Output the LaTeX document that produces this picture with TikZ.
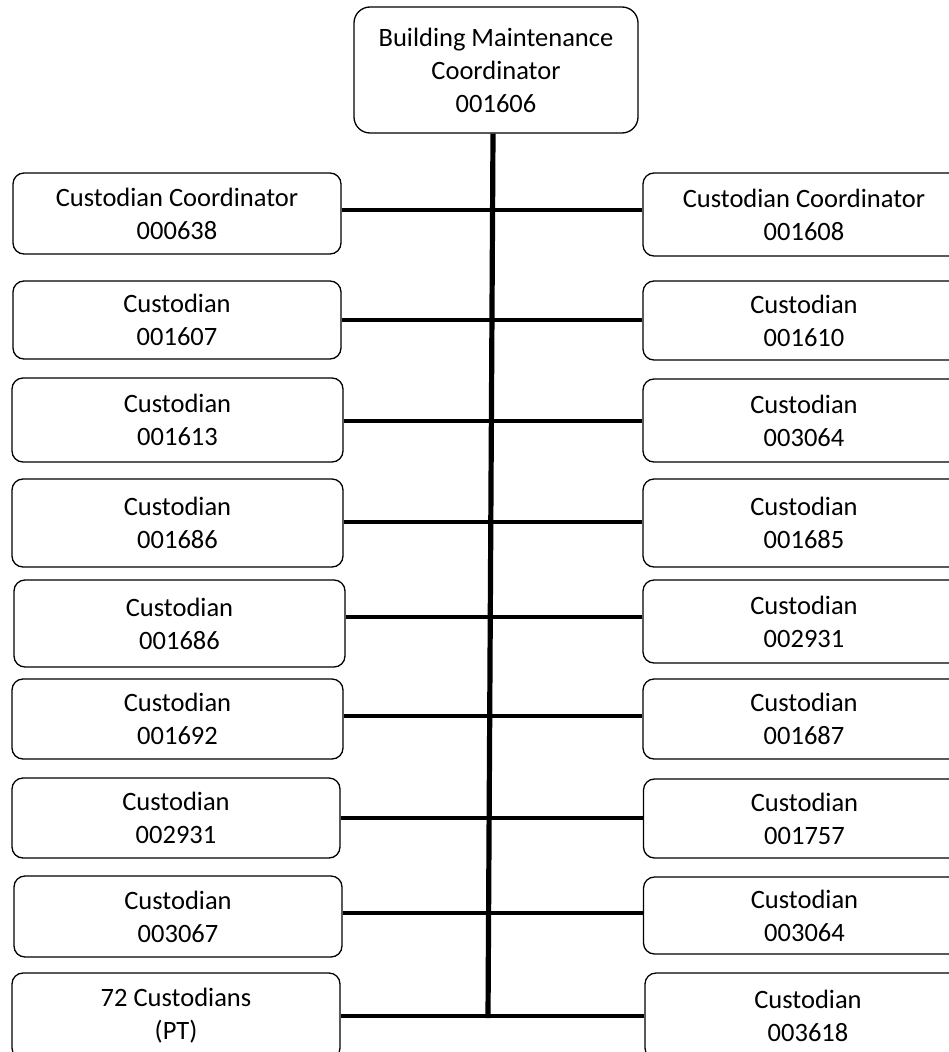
\documentclass[tikz,border=0pt]{standalone}
\usepackage{fontspec}
\setmainfont{Carlito}
\begin{document}
\begin{tikzpicture}[x=1pt,y=-1pt,
  box/.style={draw=black,line width=1.3pt,rounded corners=11pt,inner sep=0pt,align=center,
    font=\fontsize{26.5}{33}\selectfont,minimum width=328pt},
  rbox/.style={box,minimum width=322pt},
  topbox/.style={box,rounded corners=16pt,minimum width=284pt,minimum height=126pt},
  conn/.style={line width=4.6pt},
  trunk/.style={line width=5.2pt}]
\useasboundingbox (0,0) rectangle (949,1052);
\clip (0,0) rectangle (949,1052);
\node[topbox] (top) at (496,70) {Building Maintenance\\Coordinator\\001606};
% left column
\node[box,minimum height=81pt] (l1) at (177,213.5) {Custodian Coordinator\\000638};
\node[box,minimum height=78pt] (l2) at (177,320) {Custodian\\001607};
\node[box,minimum height=84pt,minimum width=331pt] (l3) at (177.5,420) {Custodian\\001613};
\node[box,minimum height=88pt,minimum width=331pt] (l4) at (177.5,523) {Custodian\\001686};
\node[box,minimum height=87pt,minimum width=331pt] (l5) at (179.5,623.5) {Custodian\\001686};
\node[box,minimum height=80pt,minimum width=331pt] (l6) at (177.5,719) {Custodian\\001692};
\node[box,minimum height=80pt] (l7) at (176,818) {Custodian\\002931};
\node[box,minimum height=81pt] (l8) at (178,916.5) {Custodian\\003067};
\node[box,minimum height=86pt] (l9) at (176,1016) {72 Custodians\\(PT)};
% right column
\node[rbox,minimum height=83pt] (r1) at (804,214.5) {Custodian Coordinator\\001608};
\node[rbox,minimum height=79pt] (r2) at (804,320.5) {Custodian\\001610};
\node[rbox,minimum height=83pt] (r3) at (804,420.5) {Custodian\\003064};
\node[rbox,minimum height=88pt] (r4) at (804,523) {Custodian\\001685};
\node[rbox,minimum height=83pt] (r5) at (804,621.5) {Custodian\\002931};
\node[rbox,minimum height=80pt] (r6) at (804,719) {Custodian\\001687};
\node[rbox,minimum height=79pt] (r7) at (804.5,818.5) {Custodian\\001757};
\node[rbox,minimum height=77pt] (r8) at (804.5,915.5) {Custodian\\003064};
\node[rbox,minimum height=86pt,minimum width=326pt] (r9) at (808,1016) {Custodian\\003618};
% trunk
\coordinate (tbot) at (488,1018);
\draw[trunk] (top.south -| 493,0) -- (tbot);
% branches
\draw[conn] (l1.east |- 0,210) -- (r1.west |- 0,210);
\draw[conn] (l2.east |- 0,320) -- (r2.west |- 0,320);
\draw[conn] (l3.east |- 0,421) -- (r3.west |- 0,421);
\draw[conn] (l4.east |- 0,522) -- (r4.west |- 0,522);
\draw[conn] (l5.east |- 0,617) -- (r5.west |- 0,617);
\draw[conn] (l6.east |- 0,716) -- (r6.west |- 0,716);
\draw[conn] (l7.east |- 0,818) -- (r7.west |- 0,818);
\draw[conn] (l8.east |- 0,913) -- (r8.west |- 0,913);
\draw[conn] (l9.east |- 0,1016) -- (r9.west |- 0,1016);
\end{tikzpicture}
\end{document}
